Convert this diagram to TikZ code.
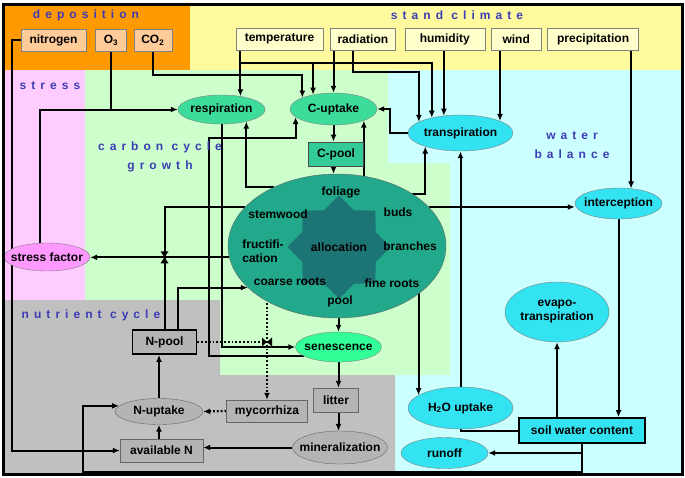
\documentclass[tikz,border=0pt]{standalone}
\usepackage{fontspec}
\setmainfont{Liberation Sans}
\newfontfamily\regionfont[LetterSpace=42]{Liberation Sans}
\usepackage{tikz}
\usetikzlibrary{calc}
\usetikzlibrary{arrows.meta,shapes.geometric,positioning}
\pgfdeclarelayer{bg}
\pgfdeclarelayer{lines}
\pgfsetlayers{bg,lines,main}
\definecolor{deporange}{HTML}{FF9900}
\definecolor{climyellow}{HTML}{FFFA9E}
\definecolor{stresspink}{HTML}{FFCCFF}
\definecolor{carbgreen}{HTML}{CCFFCC}
\definecolor{watercyan}{HTML}{CCFFFF}
\definecolor{nutgray}{HTML}{C0C0C0}
\definecolor{depfill}{HTML}{FFCC99}
\definecolor{climfill}{HTML}{FFFFCC}
\definecolor{mintfill}{HTML}{3DDC9B}
\definecolor{senfill}{HTML}{33FF99}
\definecolor{cpoolfill}{HTML}{33CC99}
\definecolor{allocfill}{HTML}{22A88A}
\definecolor{starfill}{HTML}{1D7474}
\definecolor{cyanfill}{HTML}{33E3F2}
\definecolor{sffill}{HTML}{FF99FF}
\definecolor{grayfill}{HTML}{B4B4B4}
\definecolor{regionblue}{HTML}{3C3CB4}

\begin{document}
\begin{tikzpicture}[x=1pt,y=-1pt,font=\bfseries\fontsize{12}{14}\selectfont,
		conn/.style={line width=2pt,-{Latex[length=7pt,width=6pt]}},
		wire/.style={line width=2pt},
		dots/.style={line width=2.2pt,dash pattern=on 1.8pt off 2pt},
		region/.style={font={\regionfont\bfseries\fontsize{12}{19}\selectfont},text=regionblue,align=center,inner sep=0pt},
		depbox/.style={draw=black!50,fill=depfill,minimum height=22pt,inner sep=1pt},
		climbox/.style={draw=black!50,fill=climfill,minimum height=22pt,inner sep=1pt},
		graybox/.style={draw=black!60,fill=grayfill,inner sep=1pt},
		oval/.style={ellipse,draw=black!50,inner sep=0pt},
		inside/.style={inner sep=0pt}]
	\useasboundingbox (0,0) rectangle (685,477);
	\begin{pgfonlayer}{bg}
		\fill[climyellow] (3,3) rectangle (682,70);
		\fill[deporange] (3,3) rectangle (190,70);
		\fill[stresspink] (3,70) rectangle (85,300);
		\fill[watercyan] (388,70) rectangle (682,474);
		\fill[carbgreen] (85,70) -- (388,70) -- (388,163) -- (450,163) -- (450,375) -- (85,375) -- cycle;
		\fill[nutgray] (3,300) -- (220,300) -- (220,375) -- (395,375) -- (395,474) -- (3,474) -- cycle;
	\end{pgfonlayer}

	\node[region] (deplab) at (86,15) {deposition};
	\node[region] (climlab) at (457,15) {stand climate};
	\node[region] (stresslab) at (50,86) {stress};
	\node[region] (carblab) at (160,157) {carbon cycle\\growth};
	\node[region] (waterlab) at (572,145) {water\\balance};
	\node[region] (nutlab) at (91,315) {nutrient cycle};

	\node[depbox,minimum width=65pt] (nitro) at (53.5,40) {nitrogen};
	\node[depbox,minimum width=31pt,right=9pt of nitro] (o3) {O\textsubscript{3}};
	\node[depbox,minimum width=38pt,right=7pt of o3] (co2) {CO\textsubscript{2}};
	\node[climbox,minimum width=87pt] (temp) at (279.5,39) {temperature};
	\node[climbox,minimum width=65pt,right=7pt of temp] (rad) {radiation};
	\node[climbox,minimum width=80pt,right=9pt of rad] (hum) {humidity};
	\node[climbox,minimum width=50pt,right=6pt of hum] (wind) {wind};
	\node[climbox,minimum width=91pt,right=6pt of wind] (prec) {precipitation};

	\node[oval,fill=mintfill,minimum width=87pt,minimum height=29pt,label=center:respiration] (resp) at (221.5,109.5) {};
	\node[oval,fill=mintfill,minimum width=87pt,minimum height=32pt,label=center:C-uptake] (cup) at (333.5,109) {};
	\node[draw=black!70,line width=0.8pt,fill=cpoolfill,minimum width=55pt,minimum height=24pt,inner sep=1pt] (cpool) at (336,154) {C-pool};
	\node[oval,draw=black!60,fill=allocfill,minimum width=218pt,minimum height=144pt] (alloc) at (337,246) {};
	\node[star,star points=8,star point ratio=1.3,minimum size=84pt,inner sep=0pt,fill=starfill] (allocstar) at (339,247) {allocation};
	\node[inside] (foliage) at (341,192) {foliage};
	\node[inside] (stemwood) at (278,214) {stemwood};
	\node[inside] (buds) at (398,212) {buds};
	\node[inside,align=left] (fruct) at (263,251) {fructifi-\\cation};
	\node[inside] (branches) at (410,246) {branches};
	\node[inside] (coarse) at (290,282) {coarse roots};
	\node[inside] (fine) at (392,283) {fine roots};
	\node[inside] (pool) at (340,301) {pool};

	\node[oval,fill=sffill,minimum width=86pt,minimum height=28pt,label=center:stress factor] (sf) at (47,257) {};
	\node[oval,fill=cyanfill,minimum width=105pt,minimum height=36pt,label=center:transpiration] (transp) at (460.5,133) {};
	\node[oval,fill=cyanfill,minimum width=87pt,minimum height=31pt,label=center:interception] (inter) at (618.5,203.5) {};
	\node[oval,fill=cyanfill,minimum width=104pt,minimum height=60pt,label={[align=center]center:evapo-\\transpiration}] (evapo) at (557,312) {};
	\node[oval,fill=cyanfill,minimum width=105pt,minimum height=42pt,label=center:H\textsubscript{2}O uptake] (h2o) at (460.5,408) {};
	\node[oval,fill=cyanfill,minimum width=87pt,minimum height=31pt,label=center:runoff] (runoff) at (444.5,453) {};
	\node[draw,line width=1.8pt,fill=cyanfill,minimum width=126pt,minimum height=25pt,inner sep=1pt] (swc) at (582,430.5) {soil water content};

	\node[oval,fill=senfill,minimum width=86pt,minimum height=30pt,label=center:senescence] (sen) at (338.5,347) {};
	\node[graybox,minimum width=45pt,minimum height=24pt] (litter) at (336,400) {litter};
	\node[oval,draw=black!60,fill=grayfill,minimum width=95pt,minimum height=33pt,label=center:mineralization] (mineral) at (340,447.5) {};
	\node[graybox,draw=black,line width=1.8pt,minimum width=64pt,minimum height=24pt] (npool) at (164.5,342) {N-pool};
	\node[oval,draw=black!60,fill=grayfill,minimum width=88pt,minimum height=26pt,label=center:N-uptake] (nup) at (159,411.5) {};
	\node[graybox,minimum width=81pt,minimum height=22pt] (myc) at (267,411) {mycorrhiza};
	\node[graybox,minimum width=83pt,minimum height=23pt] (availN) at (161.5,450.5) {available N};

	\path (resp.35 |- temp.south) ++(0,13) coordinate (tbus);
	\path (rad.south) ++(-10,22) coordinate (rbend);
	\path (resp.south) ++(-13,14) coordinate (cbend);
	\path (nup.west) ++(-32,60) coordinate (sbend);
	\coordinate (valveS) at (npool.north |- alloc.186);
	\coordinate (valveD) at (npool.east -| myc.north);

	\begin{pgfonlayer}{lines}
		\draw[conn] (nitro.west) -- ++(-9,0) |- (availN.west);
		\draw[wire] (o3.south) -- (o3.south |- resp.west);
		\draw[conn] (sf.117) |- (resp.west);
		\draw[conn] (co2.south) -- ++(0,24) -| (cup.160);
		\draw[conn] (resp.35 |- temp.south) -- (resp.35);
		\draw[conn] (tbus) -| (cup.145);
		\draw[conn] (tbus) -| (transp.152);
		\draw[conn] (cup.north |- rad.south) -- (cup.north);
		\draw[conn] (rbend |- rad.south) -- (rbend) -| (transp.165);
		\draw[conn] (transp.134 |- hum.south) -- (transp.134);
		\draw[conn] (transp.17 |- wind.south) -- (transp.17);
		\draw[conn] (inter.50 |- prec.south) -- (inter.50);
		\draw[conn] (transp.west) -- ++(-18,0) |- (cup.east);
		\draw[conn] (cup.south) -- (cup.south |- cpool.north);
		\draw[conn] (cup.south |- cpool.south) -- (cup.south |- alloc.north);
		\draw[conn] (cup.339 |- alloc.center) -- (cup.339);
		\draw[conn] (alloc.137) -| (resp.334);
		\draw[conn] (resp.south) |- (sen.west);
		\draw[conn] (sen.195) -| (cbend) -| (cup.192);
		\draw[wire] (npool.north) |- (alloc.157);
		\draw[conn] (npool.44) |- (alloc.205);
		\draw[conn] (alloc.186) -- (sf.east |- alloc.186);
		\draw[conn] (alloc.35) -| (transp.201);
		\draw[conn] (alloc.23) -- (inter.west |- alloc.23);
		\draw[conn] (h2o.163 |- alloc.center) -- (h2o.163);
		\draw[conn] (h2o.north) -- (transp.south);
		\draw[wire] (swc.west) -| (h2o.south);
		\draw[conn] (evapo.south |- swc.center) -- (evapo.south);
		\draw[conn] (inter.south) -- (inter.south |- swc.north);
		\draw[conn] (swc.south) |- (runoff.east);
		\draw[conn] (swc.south) |- (sbend) |- (nup.172);
		\draw[conn] (sen.north |- alloc.center) -- (sen.north);
		\draw[conn] (sen.south) -- (sen.south |- litter.north);
		\draw[conn] (sen.south |- litter.south) -- (sen.south |- mineral.north);
		\draw[conn] (mineral.west) -- (mineral.west -| availN.east);
		\draw[conn] (nup.south |- availN.north) -- (nup.south);
		\draw[conn] (nup.north) -- (nup.north |- npool.south);
		\draw[dots,-{Latex[length=7pt,width=6pt]}] (myc.west) -- (nup.east);
		\draw[dots,-{Latex[length=7pt,width=6pt]}] (myc.north |- alloc.center) -- (myc.north);
		\draw[dots] (npool.east) -- (valveD);
	\end{pgfonlayer}
	\fill[shift={(valveS)}] (-4,-6) -- (4,-6) -- (0,0) -- cycle (-4,6) -- (4,6) -- (0,0) -- cycle;
	\fill[shift={(valveD)}] (-5,-4.5) -- (-5,4.5) -- (0,0) -- cycle (5,-4.5) -- (5,4.5) -- (0,0) -- cycle;

	\draw[line width=3pt] (3,4) rectangle (682,474);
\end{tikzpicture}
\end{document}
